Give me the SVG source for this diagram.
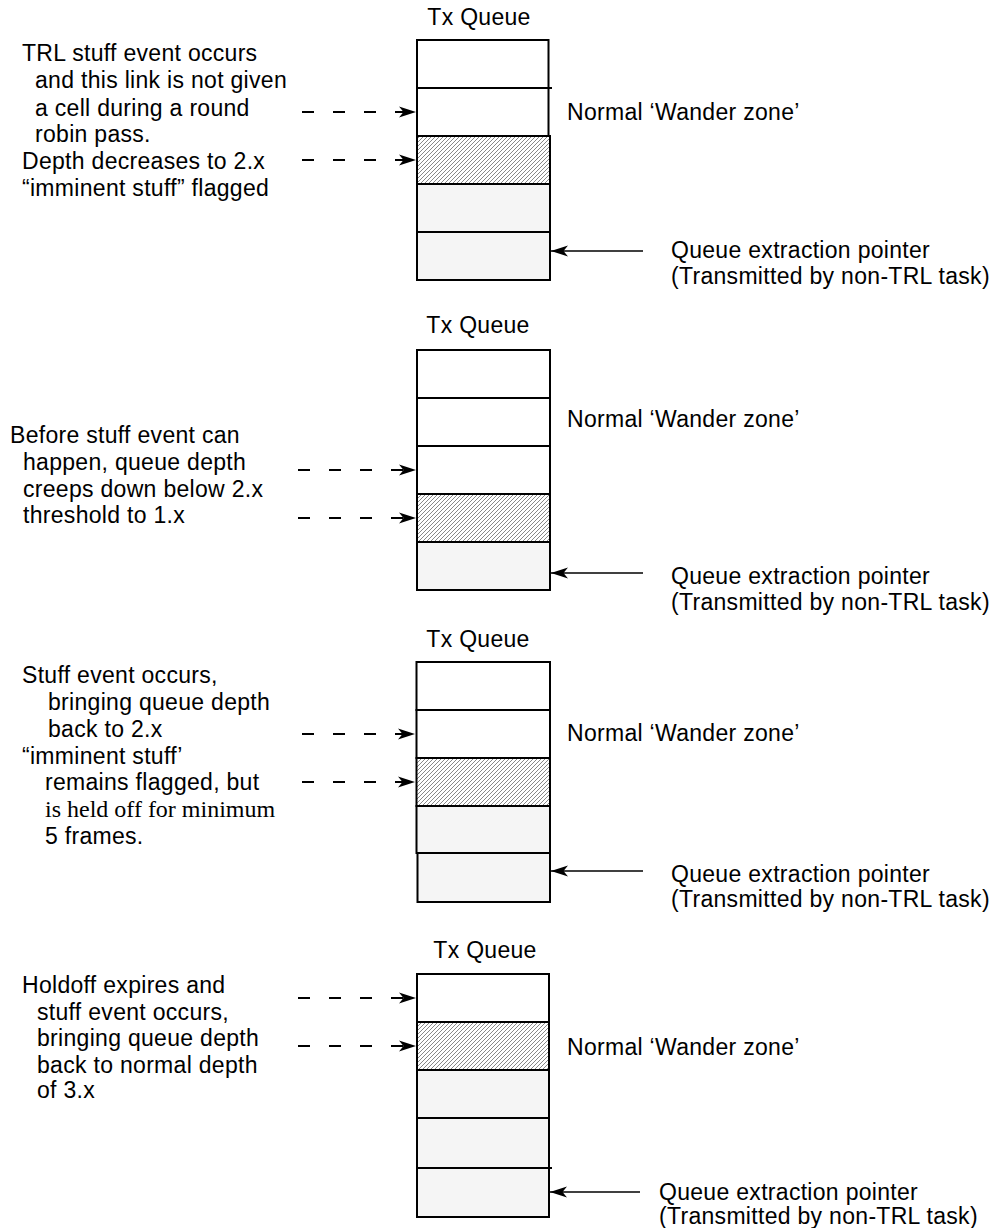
<svg xmlns="http://www.w3.org/2000/svg" width="993" height="1228" viewBox="0 0 993 1228">
  <style>
    .t { font-family: "Liberation Sans", Arial, Helvetica, sans-serif; font-size: 23px; fill: #000; letter-spacing: 0.3px; }
    .s { font-family: "Liberation Serif", "Times New Roman", serif; font-size: 24px; fill: #000; }
    .c { text-anchor: middle; }
    .w { fill: #fff; stroke: #000; stroke-width: 2; }
    .g { fill: #f5f5f5; stroke: #000; stroke-width: 2; }
    .h { fill: url(#hatch); stroke: #000; stroke-width: 2; }
    .x { fill: none; stroke: #000; stroke-width: 2; }
    .dash { fill: none; stroke: #000; stroke-width: 2; stroke-dasharray: 12 19; marker-end: url(#arr); }
    .solid { fill: none; stroke: #000; stroke-width: 1.6; marker-end: url(#arr); }
  </style>
  <defs>
    <pattern id="hatch" width="4" height="4" patternUnits="userSpaceOnUse">
      <rect width="4" height="4" fill="#fff"/>
      <path d="M-1,1 L1,-1 M0,4 L4,0 M3,5 L5,3" stroke="#555" stroke-width="0.7"/>
    </pattern>
    <marker id="arr" markerUnits="userSpaceOnUse" markerWidth="18" markerHeight="12" refX="17" refY="5.5" orient="auto" overflow="visible">
      <path d="M0,0 L17,5.5 L0,11 L4.5,5.5 Z" fill="#000" stroke="none"/>
    </marker>
  </defs>

  <!-- Diagram 1 -->
  <g id="queue1">
    <text class="t c" x="479" y="25">Tx Queue</text>
    <rect class="w" x="417" y="40" width="131.5" height="48"/>
    <rect class="w" x="417" y="88" width="131.5" height="48"/>
    <rect class="h" x="417" y="136" width="133" height="48"/>
    <rect class="g" x="417" y="184" width="133" height="48"/>
    <rect class="g" x="417" y="232" width="133" height="48"/>
    <path class="x" d="M548,88 H552"/>
  </g>
  <g id="note1">
    <text class="t" x="22" y="61">TRL stuff event occurs</text>
    <text class="t" x="35" y="88">and this link is not given</text>
    <text class="t" x="35" y="116">a cell during a round</text>
    <text class="t" x="35" y="142">robin pass.</text>
    <text class="t" x="22" y="169">Depth decreases to 2.x</text>
    <text class="t" x="22" y="196">“imminent stuff” flagged</text>
  </g>
  <g id="wander1"><text class="t" x="567" y="120">Normal ‘Wander zone’</text></g>
  <g id="ptr1">
    <text class="t" x="671" y="258">Queue extraction pointer</text>
    <text class="t" x="671" y="284">(Transmitted by non-TRL task)</text>
  </g>

  <!-- Diagram 2 -->
  <g id="queue2">
    <text class="t c" x="478" y="333">Tx Queue</text>
    <rect class="w" x="417" y="350" width="133" height="48"/>
    <rect class="w" x="417" y="398" width="133" height="48"/>
    <rect class="w" x="417" y="446" width="133" height="48"/>
    <rect class="h" x="417" y="494" width="133" height="48"/>
    <rect class="g" x="417" y="542" width="133" height="48"/>
  </g>
  <g id="note2">
    <text class="t" x="10" y="443">Before stuff event can</text>
    <text class="t" x="23" y="470">happen, queue depth</text>
    <text class="t" x="23" y="497">creeps down below 2.x</text>
    <text class="t" x="23" y="523">threshold to 1.x</text>
  </g>
  <g id="wander2"><text class="t" x="567" y="427">Normal ‘Wander zone’</text></g>
  <g id="ptr2">
    <text class="t" x="671" y="584">Queue extraction pointer</text>
    <text class="t" x="671" y="610">(Transmitted by non-TRL task)</text>
  </g>

  <!-- Diagram 3 -->
  <g id="queue3">
    <text class="t c" x="478" y="647">Tx Queue</text>
    <rect class="w" x="416.5" y="662" width="133.5" height="48"/>
    <rect class="w" x="416.5" y="710" width="133.5" height="48"/>
    <rect class="h" x="416.5" y="758" width="133.5" height="48"/>
    <rect class="g" x="416.5" y="806" width="133.5" height="47"/>
    <rect class="g" x="417.5" y="853" width="132.5" height="49"/>
  </g>
  <g id="note3">
    <text class="t" x="22" y="683">Stuff event occurs,</text>
    <text class="t" x="48" y="710">bringing queue depth</text>
    <text class="t" x="48" y="737">back to 2.x</text>
    <text class="t" x="22" y="764">“imminent stuff’</text>
    <text class="t" x="45" y="790">remains flagged, but</text>
    <text class="s" x="45" y="817">is held off for minimum</text>
    <text class="t" x="45" y="844">5 frames.</text>
  </g>
  <g id="wander3"><text class="t" x="567" y="741">Normal ‘Wander zone’</text></g>
  <g id="ptr3">
    <text class="t" x="671" y="882">Queue extraction pointer</text>
    <text class="t" x="671" y="907">(Transmitted by non-TRL task)</text>
  </g>

  <!-- Diagram 4 -->
  <g id="queue4">
    <text class="t c" x="485" y="958">Tx Queue</text>
    <rect class="w" x="417" y="974" width="132" height="48"/>
    <rect class="h" x="417" y="1022" width="132" height="48"/>
    <rect class="g" x="417" y="1070" width="132" height="48"/>
    <rect class="g" x="417" y="1118" width="132" height="50"/>
    <rect class="g" x="417" y="1168" width="132" height="49"/>
    <path class="x" d="M548,1168 H552"/>
  </g>
  <g id="note4">
    <text class="t" x="22" y="993">Holdoff expires and</text>
    <text class="t" x="37" y="1020">stuff event occurs,</text>
    <text class="t" x="37" y="1046">bringing queue depth</text>
    <text class="t" x="37" y="1073">back to normal depth</text>
    <text class="t" x="37" y="1098">of 3.x</text>
  </g>
  <g id="wander4"><text class="t" x="567" y="1055">Normal ‘Wander zone’</text></g>
  <g id="ptr4">
    <text class="t" x="659" y="1200">Queue extraction pointer</text>
    <text class="t" x="659" y="1224">(Transmitted by non-TRL task)</text>
  </g>

  <!-- Connectors -->
  <g id="connectors">
    <path class="dash" d="M302,112 H416"/>
    <path class="dash" d="M302,160 H416"/>
    <path class="solid" d="M643,251 H551"/>

    <path class="dash" d="M298,470 H416"/>
    <path class="dash" d="M298,518 H416"/>
    <path class="solid" d="M643,573 H551"/>

    <path class="dash" d="M302,734 H415"/>
    <path class="dash" d="M302,782 H415"/>
    <path class="solid" d="M643,871 H551"/>

    <path class="dash" d="M298,998 H416"/>
    <path class="dash" d="M298,1046 H416"/>
    <path class="solid" d="M640,1192 H550"/>
  </g>
</svg>
